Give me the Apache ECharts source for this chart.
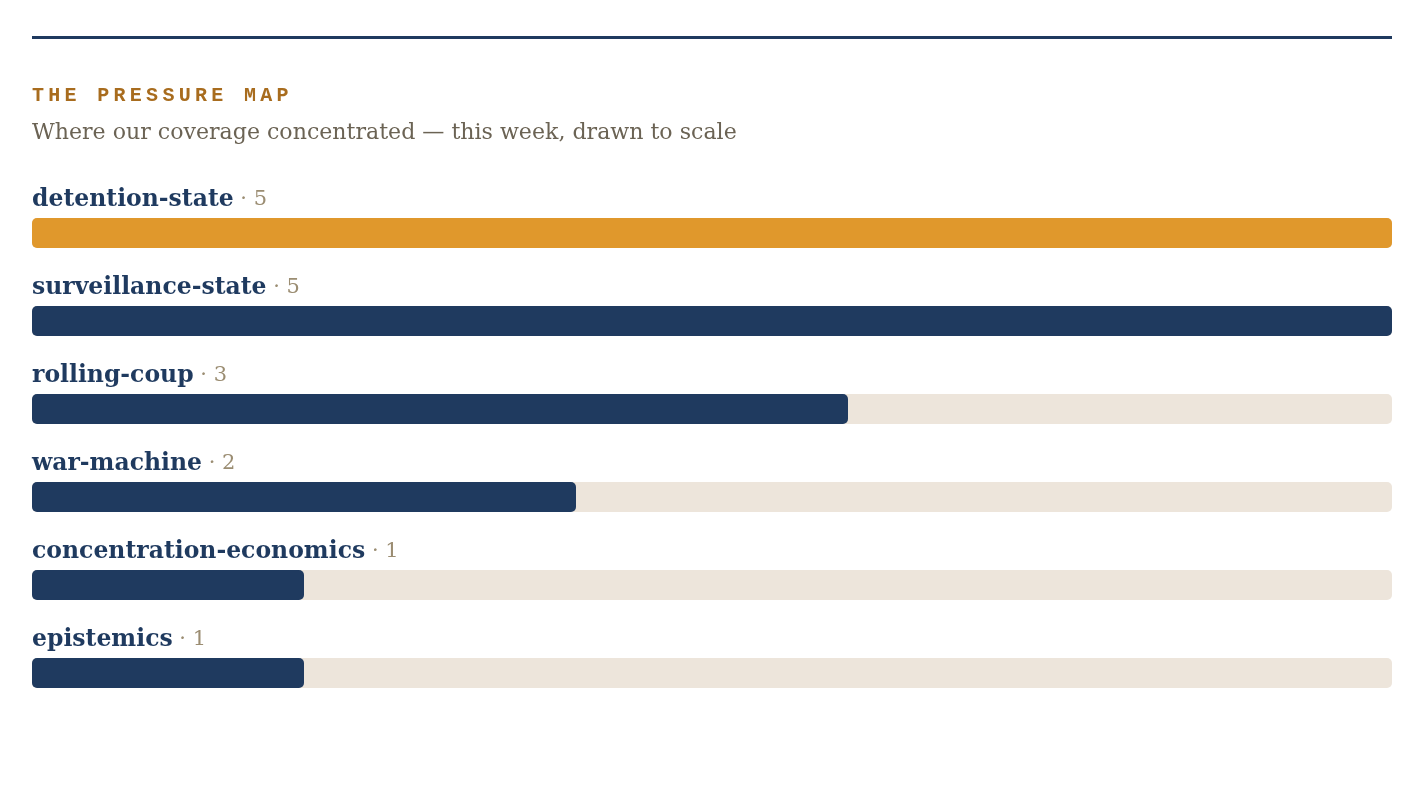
<!DOCTYPE html>
<html>
<head>
<meta charset="utf-8">
<script src="https://cdn.jsdelivr.net/npm/echarts@6/dist/echarts.min.js"></script>
<style>
  html, body { margin: 0; padding: 0; background: #fff; }
  #chart { width: 1424px; height: 788px; }
  #kicker {
    position: absolute; left: 32px; top: 84px;
    font-family: "Liberation Mono", monospace; font-weight: bold;
    font-size: 20px; letter-spacing: 4.3px; color: #a86c1e;
  }
</style>
</head>
<body>
<div id="chart"></div>
<div id="kicker">THE PRESSURE MAP</div>
<script>
// topics and how many stories touched each
const topics = ["detention-state", "surveillance-state", "rolling-coup", "war-machine", "concentration-economics", "epistemics"]
const counts = [5, 5, 3, 2, 1, 1]
const maxCount = 5

const NAVY = '#1f3a5f'
const ACCENT = '#e0982c'

const chart = echarts.init(document.getElementById('chart'), null, {renderer: 'canvas'})

chart.setOption({
  animation: false,
  graphic: [
    {
      type: 'rect',
      shape: {x: 32, y: 36, width: 1360, height: 3},
      style: {fill: NAVY}
    },
    {
      type: 'text',
      left: 32,
      top: 122,
      style: {
        text: 'Where our coverage concentrated \u2014 this week, drawn to scale',
        font: '22.1px "DejaVu Serif", serif',
        fill: '#6b6354'
      }
    }
  ],
  grid: {left: 32, right: 32, top: 189, bottom: 71},
  xAxis: {type: 'value', min: 0, max: maxCount, show: false},
  yAxis: {type: 'category', data: topics, inverse: true, show: false},
  series: [{
    type: 'bar',
    barWidth: 30,
    showBackground: true,
    backgroundStyle: {color: '#ede5db', borderRadius: 5},
    data: counts.map((v, i) => ({
      value: v,
      itemStyle: {color: i === 0 ? ACCENT : NAVY, borderRadius: 5}
    })),
    label: {
      show: true,
      position: [0, -4],
      align: 'left',
      verticalAlign: 'bottom',
      formatter: p => '{name|' + p.name + '}{cnt| \u00b7 ' + p.value + '}',
      rich: {
        name: {fontFamily: '"DejaVu Serif", serif', fontWeight: 'bold', fontSize: 23.5, color: NAVY, lineHeight: 28},
        cnt: {fontFamily: '"DejaVu Serif", serif', fontSize: 21, color: '#9b8d72', lineHeight: 28}
      }
    }
  }]
})
</script>
</body>
</html>
